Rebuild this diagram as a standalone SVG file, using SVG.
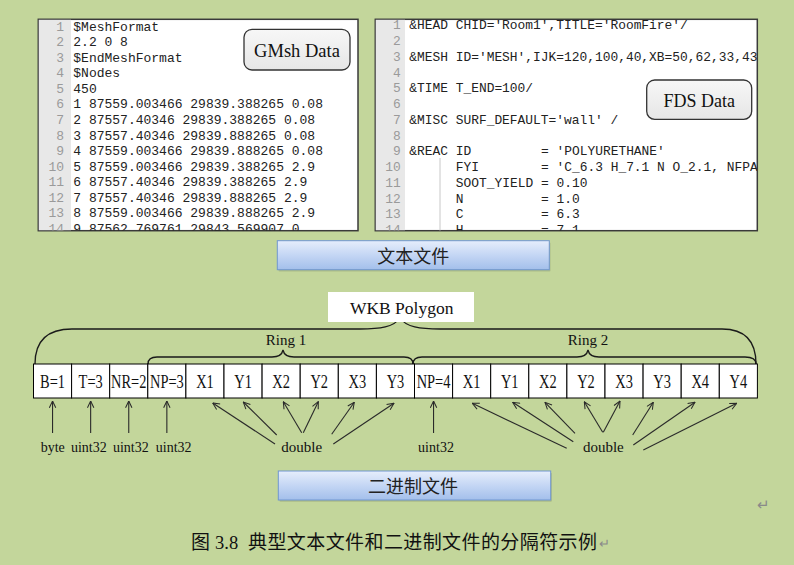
<svg xmlns="http://www.w3.org/2000/svg" width="794" height="565" viewBox="0 0 794 565">
<style>
.mono{font-family:"Liberation Mono","Courier New",monospace;fill:#222}
.ln{font-family:"Liberation Mono","Courier New",monospace;fill:#9a9a9a;text-anchor:end}
.serif{font-family:"Liberation Serif","Times New Roman",serif;fill:#111}
.cjk{font-family:"Noto Sans CJK SC","Noto Sans",sans-serif}
.cell rect{fill:#fff;stroke:#000;stroke-width:1}
.cell text{font-family:"Liberation Serif","Times New Roman",serif;font-size:18px;text-anchor:middle;fill:#111}
.arrow{fill:none;stroke:#2a2a2a;stroke-width:1.1;marker-end:url(#arr)}
.brace{fill:none;stroke:#1a1a1a;stroke-width:1.3}
.panel{fill:#fff;stroke:#3a3a3a;stroke-width:1.5}
.gutter{fill:#e8e8e8}
.tag{fill:url(#gray);stroke:#333;stroke-width:1.3}
.bar{fill:url(#blue);stroke:#7096d0;stroke-width:1}
.barshadow{fill:#000;opacity:0.12}
.lbl{font-family:"Liberation Serif","Times New Roman",serif;fill:#111;text-anchor:middle}
</style>
<defs>
<linearGradient id="blue" x1="0" y1="0" x2="0" y2="1">
<stop offset="0" stop-color="#e6eefc"/>
<stop offset="0.5" stop-color="#c4d6f4"/>
<stop offset="1" stop-color="#a3bfeb"/>
</linearGradient>
<linearGradient id="gray" x1="0" y1="0" x2="0" y2="1">
<stop offset="0" stop-color="#f7f7f7"/>
<stop offset="1" stop-color="#e6e6e6"/>
</linearGradient>
<clipPath id="clipG"><rect x="38.5" y="19.5" width="319" height="211"/></clipPath>
<clipPath id="clipF"><rect x="375.5" y="19.5" width="381.5" height="211"/></clipPath>
<marker id="arr" viewBox="0 0 10 10" refX="9.5" refY="5" markerWidth="8" markerHeight="8" markerUnits="userSpaceOnUse" orient="auto">
<path d="M1,1 L9.5,5 L1,9" fill="none" stroke="#2a2a2a" stroke-width="1.3"/>
</marker>
</defs>
<rect x="0" y="0" width="794" height="565" fill="#c3d69b"/>

<g id="panel-gmsh">
<rect class="panel" x="38.3" y="19.3" width="319.7" height="211.4"/>
<g clip-path="url(#clipG)">
<rect class="gutter" x="38.5" y="19.5" width="32.5" height="211"/>
<g class="ln" font-size="13">
<text x="64" y="30.7">1</text><text x="64" y="46.25">2</text><text x="64" y="61.8">3</text><text x="64" y="77.35">4</text><text x="64" y="92.9">5</text><text x="64" y="108.45">6</text><text x="64" y="124">7</text><text x="64" y="139.55">8</text><text x="64" y="155.1">9</text><text x="64" y="170.65">10</text><text x="64" y="186.2">11</text><text x="64" y="201.75">12</text><text x="64" y="217.3">13</text><text x="64" y="232.85">14</text>
</g>
<g class="mono" font-size="13">
<text x="73.3" y="30.7">$MeshFormat</text>
<text x="73.3" y="46.25">2.2 0 8</text>
<text x="73.3" y="61.8">$EndMeshFormat</text>
<text x="73.3" y="77.35">$Nodes</text>
<text x="73.3" y="92.9">450</text>
<text x="73.3" y="108.45">1 87559.003466 29839.388265 0.08</text>
<text x="73.3" y="124">2 87557.40346 29839.388265 0.08</text>
<text x="73.3" y="139.55">3 87557.40346 29839.888265 0.08</text>
<text x="73.3" y="155.1">4 87559.003466 29839.888265 0.08</text>
<text x="73.3" y="170.65">5 87559.003466 29839.388265 2.9</text>
<text x="73.3" y="186.2">6 87557.40346 29839.388265 2.9</text>
<text x="73.3" y="201.75">7 87557.40346 29839.888265 2.9</text>
<text x="73.3" y="217.3">8 87559.003466 29839.888265 2.9</text>
<text x="73.3" y="232.85">9 87562.769761 29843.569907 0</text>
</g>
</g>
</g>

<g id="tag-gmsh">
<rect class="tag" x="244" y="29.3" width="106" height="40.7" rx="8"/>
<text class="lbl" x="297" y="56.7" font-size="18.5">GMsh Data</text>
</g>

<g id="panel-fds">
<rect class="panel" x="375.3" y="19.3" width="382" height="211.4"/>
<g clip-path="url(#clipF)">
<rect class="gutter" x="375.5" y="19.5" width="29.5" height="211"/>
<line x1="440" y1="158" x2="440" y2="231" stroke="#c8c8c8" stroke-width="1"/>
<g class="ln" font-size="12.9">
<text x="400.7" y="29.3">1</text><text x="400.7" y="45.05">2</text><text x="400.7" y="60.8">3</text><text x="400.7" y="76.55">4</text><text x="400.7" y="92.3">5</text><text x="400.7" y="108.05">6</text><text x="400.7" y="123.8">7</text><text x="400.7" y="139.55">8</text><text x="400.7" y="155.3">9</text><text x="400.7" y="171.05">10</text><text x="400.7" y="186.8">11</text><text x="400.7" y="202.55">12</text><text x="400.7" y="218.3">13</text><text x="400.7" y="234.05">14</text>
</g>
<g class="mono" font-size="12.9">
<text x="409.3" y="29.3">&amp;HEAD CHID='Room1',TITLE='RoomFire'/</text>
<text x="409.3" y="60.8">&amp;MESH ID='MESH',IJK=120,100,40,XB=50,62,33,43</text>
<text x="409.3" y="92.3">&amp;TIME T_END=100/</text>
<text x="409.3" y="123.8">&amp;MISC SURF_DEFAULT='wall' /</text>
<text x="409.3" y="155.3">&amp;REAC ID<tspan x="541.05">= 'POLYURETHANE'</tspan></text>
<text x="455.8" y="171.05">FYI<tspan x="541.05">= 'C_6.3 H_7.1 N O_2.1, NFPA</tspan></text>
<text x="455.8" y="186.8">SOOT_YIELD<tspan x="541.05">= 0.10</tspan></text>
<text x="455.8" y="202.55">N<tspan x="541.05">= 1.0</tspan></text>
<text x="455.8" y="218.3">C<tspan x="541.05">= 6.3</tspan></text>
<text x="455.8" y="234.05">H<tspan x="541.05">= 7.1</tspan></text>
</g>
</g>
</g>

<g id="tag-fds">
<rect class="tag" x="646.7" y="80" width="105" height="39.3" rx="8"/>
<text class="lbl" x="699.3" y="106.7" font-size="18">FDS Data</text>
</g>

<g id="bar-text">
<rect class="barshadow" x="278.5" y="242.5" width="272" height="29" rx="1"/>
<rect class="bar" x="277.3" y="240.7" width="272" height="29"/>
<text class="cjk" x="413.3" y="263" font-size="18" fill="#222" text-anchor="middle">文本文件</text>
</g>

<g id="connectors">
<path class="brace" d="M35,364 C35,342 46,329 72,329 L360,329 C380,329 394,327 400,318 C406,327 420,329 440,329 L722,329 C746,329 756,342 756,364"/>
<path class="brace" d="M148,364 C148,359 151,357 157,357 L272,357 C279,357 282,355 283,350 C284,355 287,357 294,357 L404,357 C410,357 413,359 413,364"/>
<path class="brace" d="M413,364 C413,359 416,357 422,357 L577,357 C584,357 587,355 588,350 C589,355 592,357 599,357 L745,357 C752,357 756,359 756,364"/>
<line class="arrow" x1="52.55" y1="433" x2="52.55" y2="401"/>
<line class="arrow" x1="90.65" y1="433" x2="90.65" y2="401"/>
<line class="arrow" x1="128.75" y1="433" x2="128.75" y2="401"/>
<line class="arrow" x1="166.85" y1="433" x2="166.85" y2="401"/>
<line class="arrow" x1="433.55" y1="433" x2="433.55" y2="401"/>
<line class="arrow" x1="275" y1="444" x2="212.7" y2="403"/>
<line class="arrow" x1="276.7" y1="435" x2="243.3" y2="402"/>
<line class="arrow" x1="301.7" y1="432.7" x2="283.3" y2="401.7"/>
<line class="arrow" x1="303.3" y1="432.7" x2="318.3" y2="401.7"/>
<line class="arrow" x1="331.7" y1="434.3" x2="354.3" y2="402.3"/>
<line class="arrow" x1="333.3" y1="444" x2="394" y2="403.3"/>
<line class="arrow" x1="566.7" y1="448.3" x2="472.3" y2="403.3"/>
<line class="arrow" x1="573.3" y1="441.7" x2="512.7" y2="402.3"/>
<line class="arrow" x1="575" y1="433.3" x2="545" y2="402.3"/>
<line class="arrow" x1="602.7" y1="432.3" x2="584.3" y2="401.7"/>
<line class="arrow" x1="603.3" y1="432.3" x2="620" y2="401"/>
<line class="arrow" x1="632.7" y1="435" x2="653.3" y2="402.3"/>
<line class="arrow" x1="633.3" y1="445" x2="695" y2="402.3"/>
<line class="arrow" x1="643.3" y1="450" x2="736.7" y2="403.3"/>
</g>

<g id="wkb">
<rect x="328" y="292" width="146" height="30" fill="#fff"/>
<text class="lbl" x="401.7" y="314" font-size="17.5">WKB Polygon</text>
</g>

<g id="ring1-label"><text class="lbl" x="286" y="345" font-size="15">Ring 1</text></g>
<g id="ring2-label"><text class="lbl" x="588" y="345" font-size="15">Ring 2</text></g>

<g id="cells">
<g class="cell" id="c-b"><rect x="33.5" y="364" width="38.1" height="34"/><text transform="translate(52.55,387.5) scale(0.8,1)">B=1</text></g>
<g class="cell" id="c-t"><rect x="71.6" y="364" width="38.1" height="34"/><text transform="translate(90.65,387.5) scale(0.8,1)">T=3</text></g>
<g class="cell" id="c-nr"><rect x="109.7" y="364" width="38.1" height="34"/><text transform="translate(128.75,387.5) scale(0.8,1)">NR=2</text></g>
<g class="cell" id="c-np1"><rect x="147.8" y="364" width="38.1" height="34"/><text transform="translate(166.85,387.5) scale(0.8,1)">NP=3</text></g>
<g class="cell" id="c-r1x1"><rect x="185.9" y="364" width="38.1" height="34"/><text transform="translate(204.95,387.5) scale(0.8,1)">X1</text></g>
<g class="cell" id="c-r1y1"><rect x="224" y="364" width="38.1" height="34"/><text transform="translate(243.05,387.5) scale(0.8,1)">Y1</text></g>
<g class="cell" id="c-r1x2"><rect x="262.1" y="364" width="38.1" height="34"/><text transform="translate(281.15,387.5) scale(0.8,1)">X2</text></g>
<g class="cell" id="c-r1y2"><rect x="300.2" y="364" width="38.1" height="34"/><text transform="translate(319.25,387.5) scale(0.8,1)">Y2</text></g>
<g class="cell" id="c-r1x3"><rect x="338.3" y="364" width="38.1" height="34"/><text transform="translate(357.35,387.5) scale(0.8,1)">X3</text></g>
<g class="cell" id="c-r1y3"><rect x="376.4" y="364" width="38.1" height="34"/><text transform="translate(395.45,387.5) scale(0.8,1)">Y3</text></g>
<g class="cell" id="c-np2"><rect x="414.5" y="364" width="38.1" height="34"/><text transform="translate(433.55,387.5) scale(0.8,1)">NP=4</text></g>
<g class="cell" id="c-r2x1"><rect x="452.6" y="364" width="38.1" height="34"/><text transform="translate(471.65,387.5) scale(0.8,1)">X1</text></g>
<g class="cell" id="c-r2y1"><rect x="490.7" y="364" width="38.1" height="34"/><text transform="translate(509.75,387.5) scale(0.8,1)">Y1</text></g>
<g class="cell" id="c-r2x2"><rect x="528.8" y="364" width="38.1" height="34"/><text transform="translate(547.85,387.5) scale(0.8,1)">X2</text></g>
<g class="cell" id="c-r2y2"><rect x="566.9" y="364" width="38.1" height="34"/><text transform="translate(585.95,387.5) scale(0.8,1)">Y2</text></g>
<g class="cell" id="c-r2x3"><rect x="605" y="364" width="38.1" height="34"/><text transform="translate(624.05,387.5) scale(0.8,1)">X3</text></g>
<g class="cell" id="c-r2y3"><rect x="643.1" y="364" width="38.1" height="34"/><text transform="translate(662.15,387.5) scale(0.8,1)">Y3</text></g>
<g class="cell" id="c-r2x4"><rect x="681.2" y="364" width="38.1" height="34"/><text transform="translate(700.25,387.5) scale(0.8,1)">X4</text></g>
<g class="cell" id="c-r2y4"><rect x="719.3" y="364" width="38.1" height="34"/><text transform="translate(738.35,387.5) scale(0.8,1)">Y4</text></g>
</g>

<g id="type-labels">
<text class="lbl" x="52.8" y="451.7" font-size="14">byte</text>
<text class="lbl" x="88.8" y="451.7" font-size="14">uint32</text>
<text class="lbl" x="130.8" y="451.7" font-size="14">uint32</text>
<text class="lbl" x="173.7" y="451.7" font-size="14">uint32</text>
<text class="lbl" x="436" y="451.7" font-size="14">uint32</text>
<text class="lbl" x="301.7" y="451.7" font-size="15">double</text>
<text class="lbl" x="603.3" y="451.7" font-size="15">double</text>
</g>

<g id="bar-binary">
<rect class="barshadow" x="279.5" y="472.8" width="272.4" height="29" rx="1"/>
<rect class="bar" x="278.3" y="471" width="272.4" height="29"/>
<text class="cjk" x="413" y="493" font-size="18" fill="#222" text-anchor="middle">二进制文件</text>
</g>

<g id="marks">
<text class="cjk" x="757" y="510" font-size="15" fill="#8a8a8a">↵</text>
</g>

<g id="caption">
<text class="cjk" x="191" y="548.5" font-size="19" fill="#111">图</text>
<text class="serif" x="215" y="548.5" font-size="18.5">3.8</text>
<text class="cjk" x="248" y="548.5" font-size="19" fill="#111" textLength="349" lengthAdjust="spacing">典型文本文件和二进制文件的分隔符示例</text>
<text class="cjk" x="598.5" y="548" font-size="13" fill="#8a8a8a">↵</text>
</g>
</svg>
